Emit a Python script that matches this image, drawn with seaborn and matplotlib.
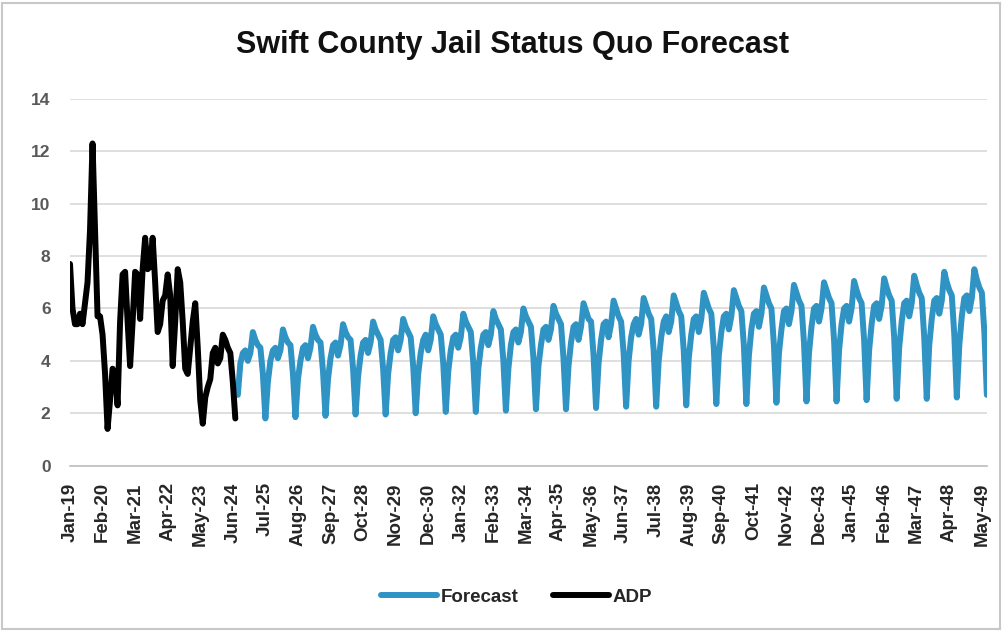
import numpy as np
import pandas as pd
import matplotlib
matplotlib.use('Agg')
import matplotlib.pyplot as plt
import seaborn as sns
from matplotlib.lines import Line2D
from matplotlib.patches import Rectangle

# tick labels, one every 13 months from Jan-19
month_labels = ['Jan-19', 'Feb-20', 'Mar-21', 'Apr-22', 'May-23', 'Jun-24', 'Jul-25',
                'Aug-26', 'Sep-27', 'Oct-28', 'Nov-29', 'Dec-30', 'Jan-32', 'Feb-33',
                'Mar-34', 'Apr-35', 'May-36', 'Jun-37', 'Jul-38', 'Aug-39', 'Sep-40',
                'Oct-41', 'Nov-42', 'Dec-43', 'Jan-45', 'Feb-46', 'Mar-47', 'Apr-48',
                'May-49']

# ADP, monthly Jan-19 .. Jul-24
adp = [7.7, 6.0, 5.4, 5.4, 5.8, 5.4, 6.2, 7.0, 9.0, 12.3,
       9.0, 5.7, 5.7, 5.0, 3.5, 1.4, 2.5, 3.7, 3.5, 2.3,
       5.5, 7.3, 7.4, 5.5, 3.8, 5.5, 7.4, 7.3, 5.6, 7.5,
       8.7, 7.5, 7.6, 8.7, 7.0, 5.1, 5.4, 6.3, 6.5, 7.3,
       6.5, 3.8, 5.5, 7.5, 7.0, 5.5, 3.7, 3.5, 4.5, 5.5,
       6.2, 4.5, 2.5, 1.6, 2.6, 3.0, 3.3, 4.3, 4.5, 3.9,
       4.1, 5.0, 4.8, 4.5, 4.3, 3.2, 1.8]

# forecast, one row per season Aug .. Jul (Aug-24 .. Jul-49)
forecast_rows = [
    [2.7, 3.9, 4.3, 4.4, 4.0, 4.3, 5.1, 4.8, 4.6, 4.5, 3.5, 1.8],
    [3.2, 4.0, 4.4, 4.5, 4.1, 4.4, 5.2, 4.9, 4.7, 4.6, 3.5, 1.85],
    [3.3, 4.0, 4.5, 4.6, 4.1, 4.5, 5.3, 5.0, 4.8, 4.7, 3.6, 1.9],
    [3.3, 4.1, 4.6, 4.7, 4.2, 4.6, 5.4, 5.1, 4.9, 4.8, 3.7, 1.95],
    [3.4, 4.2, 4.7, 4.8, 4.3, 4.7, 5.5, 5.2, 5.0, 4.8, 3.7, 1.95],
    [3.5, 4.3, 4.8, 4.9, 4.4, 4.8, 5.6, 5.3, 5.1, 4.9, 3.8, 2.0],
    [3.5, 4.3, 4.8, 5.0, 4.4, 4.8, 5.7, 5.4, 5.2, 5.0, 3.9, 2.05],
    [3.6, 4.4, 4.9, 5.0, 4.5, 4.9, 5.8, 5.5, 5.3, 5.1, 3.9, 2.05],
    [3.7, 4.5, 5.0, 5.1, 4.6, 5.0, 5.9, 5.6, 5.4, 5.2, 4.0, 2.1],
    [3.7, 4.6, 5.1, 5.2, 4.7, 5.1, 6.0, 5.7, 5.5, 5.3, 4.1, 2.15],
    [3.8, 4.6, 5.2, 5.3, 4.8, 5.2, 6.1, 5.8, 5.6, 5.4, 4.1, 2.15],
    [3.8, 4.7, 5.3, 5.4, 4.8, 5.3, 6.2, 5.9, 5.6, 5.5, 4.2, 2.2],
    [3.9, 4.8, 5.4, 5.5, 4.9, 5.4, 6.3, 6.0, 5.7, 5.5, 4.3, 2.25],
    [4.0, 4.9, 5.4, 5.6, 5.0, 5.4, 6.4, 6.1, 5.8, 5.6, 4.4, 2.25],
    [4.0, 4.9, 5.5, 5.7, 5.1, 5.5, 6.5, 6.2, 5.9, 5.7, 4.4, 2.3],
    [4.1, 5.0, 5.6, 5.7, 5.1, 5.6, 6.6, 6.3, 6.0, 5.8, 4.5, 2.35],
    [4.2, 5.1, 5.7, 5.8, 5.2, 5.7, 6.7, 6.4, 6.1, 5.9, 4.6, 2.35],
    [4.2, 5.2, 5.8, 5.9, 5.3, 5.8, 6.8, 6.5, 6.2, 6.0, 4.6, 2.4],
    [4.3, 5.2, 5.9, 6.0, 5.4, 5.9, 6.9, 6.6, 6.3, 6.1, 4.7, 2.45],
    [4.3, 5.3, 6.0, 6.1, 5.5, 6.0, 7.0, 6.7, 6.4, 6.2, 4.8, 2.45],
    [4.4, 5.4, 6.0, 6.1, 5.5, 6.0, 7.05, 6.7, 6.4, 6.2, 4.8, 2.5],
    [4.4, 5.4, 6.1, 6.2, 5.6, 6.1, 7.15, 6.8, 6.5, 6.3, 4.9, 2.55],
    [4.5, 5.5, 6.2, 6.3, 5.7, 6.2, 7.25, 6.9, 6.6, 6.4, 4.9, 2.55],
    [4.6, 5.6, 6.3, 6.4, 5.8, 6.3, 7.4, 7.0, 6.7, 6.5, 5.0, 2.6],
    [4.6, 5.7, 6.4, 6.5, 5.9, 6.4, 7.5, 7.1, 6.8, 6.6, 5.1, 2.7],
]
forecast = [v for row in forecast_rows for v in row]

blue = '#2f93c4'
grid_gray = '#d9d9d9'
text_gray = '#595959'

n_adp = len(adp)
df = pd.concat([
    pd.DataFrame({'month': np.arange(n_adp + len(forecast))[n_adp:], 'value': forecast, 'series': 'Forecast'}),
    pd.DataFrame({'month': np.arange(n_adp), 'value': adp, 'series': 'ADP'}),
])

sns.set_style('white')
plt.rcParams['font.family'] = ['Liberation Sans', 'DejaVu Sans']

fig = plt.figure(figsize=(10.07, 6.32), dpi=100)
ax = fig.add_axes([0.0695, 0.2633, 0.9105, 0.5801])

sns.lineplot(data=df, x='month', y='value', hue='series',
             palette={'Forecast': blue, 'ADP': 'black'},
             linewidth=4.3, legend=False, ax=ax,
             solid_joinstyle='round', solid_capstyle='round')

last = n_adp + len(forecast) - 1
ax.set_xlim(0, last)
ax.set_ylim(0, 14)
ax.set_yticks(range(0, 15, 2))
ax.set_xticks(range(0, 365, 13))
ax.set_xticklabels(month_labels, rotation=90, fontsize=13.5, fontweight='bold', color='#262626')
ax.tick_params(axis='y', length=0, labelsize=12.5, labelcolor=text_gray, pad=14)
ax.tick_params(axis='x', length=4, color='#bfbfbf', width=1, pad=8)
for lbl in ax.get_yticklabels():
    lbl.set_fontweight('bold')
ax.set_xlabel('')
ax.set_ylabel('')
ax.yaxis.grid(True, color=grid_gray, linewidth=1.2)
ax.set_axisbelow(True)
for side in ['left', 'right', 'top']:
    ax.spines[side].set_visible(False)
ax.spines['bottom'].set_color('#bfbfbf')
ax.spines['bottom'].set_linewidth(1.2)

fig.text(0.509, 0.929, 'Swift County Jail Status Quo Forecast', ha='center', va='center',
         fontsize=22, fontweight='bold', color='#111111')

handles = [Line2D([], [], color=blue, lw=4.3), Line2D([], [], color='black', lw=4.3)]
fig.legend(handles, ['Forecast', 'ADP'], loc='center', bbox_to_anchor=(0.513, 0.055),
           ncol=2, frameon=False, handlelength=3.0, handletextpad=0.2, columnspacing=1.8,
           prop={'weight': 'bold', 'size': 13.5})

fig.add_artist(Rectangle((0.002, 0.005), 0.991, 0.99, transform=fig.transFigure,
                         fill=False, edgecolor='#c8c8c8', linewidth=1.5))

fig.savefig('out.png', dpi=100)
